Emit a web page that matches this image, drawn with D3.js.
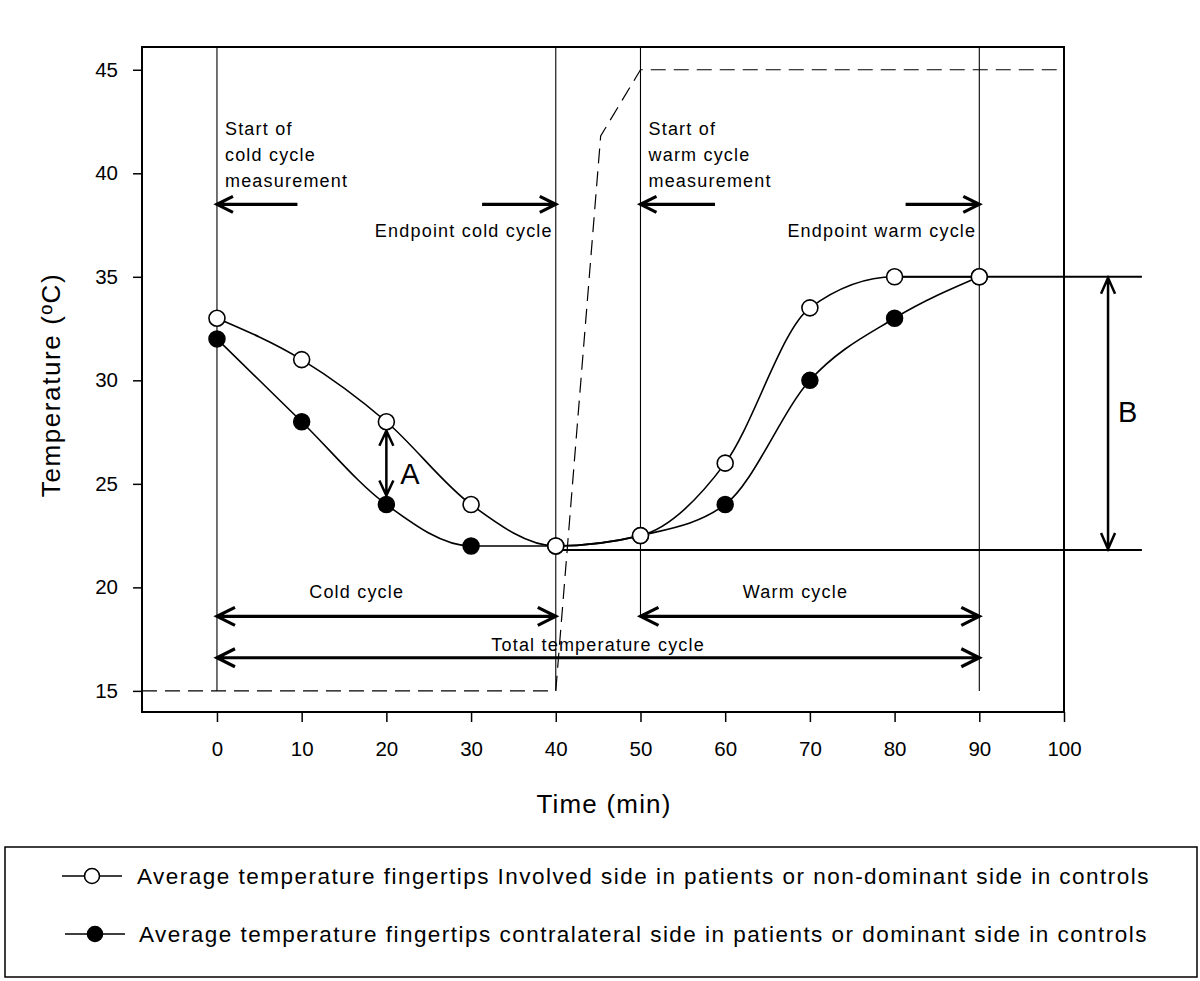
<!DOCTYPE html>
<html>
<head>
<meta charset="utf-8">
<script src="https://cdn.jsdelivr.net/npm/d3@7"></script>
<style>
  html, body { margin: 0; padding: 0; background: #fff; }
  svg { display: block; }
  text { font-family: "Liberation Sans", Arial, sans-serif; fill: #000; }
</style>
</head>
<body>
<svg id="chart" width="1200" height="981"></svg>
<script>
// ---------- data ----------
const times = [0, 10, 20, 30, 40, 50, 60, 70, 80, 90];
const involved = [33, 31, 28, 24, 22, 22.5, 26, 33.5, 35, 35];
const contralateral = [32, 28, 24, 22, 22, 22.5, 24, 30, 33, 35];

const stimTime = [-8.85, 40, 45.3, 50, 100];
const stimTemp = [15, 15, 41.8, 45, 45];

const xTicks = [0, 10, 20, 30, 40, 50, 60, 70, 80, 90, 100];
const yTicks = [15, 20, 25, 30, 35, 40, 45];

const markerTimes = [0, 40, 50, 90];
const markerBottoms = [15, 15, 18.6, 15];

const seriesNames = [
  "Average temperature fingertips Involved side in patients or non-dominant side in controls",
  "Average temperature fingertips contralateral side in patients or dominant side in controls"
];

const cycleY = 18.6, totalY = 16.6, phaseY = 38.5;
const levelHigh = 35, levelLow = 21.8;
const bTime = 105.2, levelEnd = 109.2;

// ---------- layout ----------
const svg = d3.select("#chart");
const x = d3.scaleLinear().domain([-8.85, 100]).range([142, 1064]);
const y = d3.scaleLinear().domain([13.98, 46.1]).range([712, 47]);

// axes
const xAxis = svg.append("g").attr("transform", "translate(0,712)")
  .call(d3.axisBottom(x).tickValues(xTicks).tickSize(10).tickPadding(19).tickFormat(d3.format("d")));
const yAxis = svg.append("g").attr("transform", "translate(142,0)")
  .call(d3.axisLeft(y).tickValues(yTicks).tickSize(9).tickPadding(15).tickFormat(d3.format("d")));
[xAxis, yAxis].forEach(g => {
  g.select(".domain").remove();
  g.selectAll(".tick line").attr("stroke", "#000").attr("stroke-width", 1.5);
  g.selectAll(".tick text").attr("font-size", 20.5).attr("font-family", "Liberation Sans, Arial, sans-serif");
});
xAxis.selectAll(".tick text").attr("dy", "0.71em");

// frame
svg.append("rect").attr("x", x(-8.85)).attr("y", y(46.1))
  .attr("width", x(100) - x(-8.85)).attr("height", y(13.98) - y(46.1))
  .attr("fill", "none").attr("stroke", "#000").attr("stroke-width", 2);

// axis titles
svg.append("text").attr("x", 604).attr("y", 813).attr("text-anchor", "middle")
  .attr("font-size", 26).attr("letter-spacing", 1.2).text("Time (min)");
svg.append("text").attr("transform", "translate(60,385) rotate(-90)").attr("text-anchor", "middle")
  .attr("font-size", 26).attr("letter-spacing", 1.6).text("Temperature (ºC)");

// vertical reference lines
svg.append("g").selectAll("line").data(markerTimes).join("line")
  .attr("x1", d => x(d)).attr("x2", d => x(d))
  .attr("y1", y(46.1)).attr("y2", (d, i) => y(markerBottoms[i]))
  .attr("stroke", "#000").attr("stroke-width", 1.1);

// stimulus dashed line
svg.append("path")
  .datum(stimTime.map((t, i) => [t, stimTemp[i]]))
  .attr("d", d3.line().x(d => x(d[0])).y(d => y(d[1])))
  .attr("fill", "none").attr("stroke", "#000").attr("stroke-width", 1.2)
  .attr("stroke-dasharray", "15,8");

// level lines
svg.append("line").attr("x1", x(80)).attr("x2", x(levelEnd)).attr("y1", y(levelHigh)).attr("y2", y(levelHigh))
  .attr("stroke", "#000").attr("stroke-width", 2);
svg.append("line").attr("x1", x(40)).attr("x2", x(levelEnd)).attr("y1", y(levelLow)).attr("y2", y(levelLow))
  .attr("stroke", "#000").attr("stroke-width", 2);

// arrow helpers
function head(tx, ty, dx, dy, len, half) {
  const bx = tx - dx * len, by = ty - dy * len;
  const px = -dy, py = dx;
  return `M${bx + px * half},${by + py * half}L${tx},${ty}L${bx - px * half},${by - py * half}`;
}
function arrow(x1, y1, x2, y2, startHead, endHead, w, len, half) {
  const L = Math.hypot(x2 - x1, y2 - y1), dx = (x2 - x1) / L, dy = (y2 - y1) / L;
  let d = `M${x1},${y1}L${x2},${y2}`;
  if (endHead) d += head(x2, y2, dx, dy, len, half);
  if (startHead) d += head(x1, y1, -dx, -dy, len, half);
  svg.append("path").attr("d", d).attr("fill", "none").attr("stroke", "#000")
    .attr("stroke-width", w).attr("stroke-linejoin", "miter").attr("stroke-linecap", "butt");
}

// cycle arrows
arrow(x(0), y(cycleY), x(40), y(cycleY), true, true, 3.2, 18, 9);
arrow(x(50), y(cycleY), x(90), y(cycleY), true, true, 3.2, 18, 9);
arrow(x(0), y(totalY), x(90), y(totalY), true, true, 3.2, 18, 9);
// phase arrows
arrow(x(9.5), y(phaseY), x(0), y(phaseY), false, true, 3.2, 16, 8);
arrow(x(31.3), y(phaseY), x(40), y(phaseY), false, true, 3.2, 16, 8);
arrow(x(58.8), y(phaseY), x(50), y(phaseY), false, true, 3.2, 16, 8);
arrow(x(81.3), y(phaseY), x(90), y(phaseY), false, true, 3.2, 16, 8);
// A and B
arrow(x(20), y(28) + 9, x(20), y(24) - 9, true, true, 2.5, 15, 7);
arrow(x(bTime), y(levelHigh) + 1, x(bTime), y(levelLow) - 1, true, true, 2.5, 16, 7);

// annotation texts
const ann = svg.append("g").attr("font-size", 18).attr("letter-spacing", 1.2);
function label(tx, ty, str, anchor) {
  ann.append("text").attr("x", tx).attr("y", ty).attr("text-anchor", anchor || "start").text(str);
}
label(x(0) + 8, y(phaseY) - 69, "Start of");
label(x(0) + 8, y(phaseY) - 43, "cold cycle");
label(x(0) + 8, y(phaseY) - 17, "measurement");
label(x(50) + 8, y(phaseY) - 69, "Start of");
label(x(50) + 8, y(phaseY) - 43, "warm cycle");
label(x(50) + 8, y(phaseY) - 17, "measurement");
label(x(40) - 3, y(phaseY) + 33, "Endpoint cold cycle", "end");
label(x(90) - 3, y(phaseY) + 33, "Endpoint warm cycle", "end");
label(x(16.5), y(cycleY) - 18, "Cold cycle", "middle");
label(x(68.3), y(cycleY) - 18, "Warm cycle", "middle");
label(x(45), y(totalY) - 7, "Total temperature cycle", "middle");

svg.append("text").attr("x", x(20) + 14).attr("y", y(24) - 21).attr("font-size", 29).text("A");
svg.append("text").attr("x", x(bTime) + 10).attr("y", 422).attr("font-size", 29).text("B");

// series curves
const curve = d3.line().x(d => x(d[0])).y(d => y(d[1])).curve(d3.curveMonotoneX);
const sInv = times.map((t, i) => [t, involved[i]]);
const sCon = times.map((t, i) => [t, contralateral[i]]);
svg.append("path").datum(sCon).attr("d", curve).attr("fill", "none").attr("stroke", "#000").attr("stroke-width", 1.6);
svg.append("path").datum(sInv).attr("d", curve).attr("fill", "none").attr("stroke", "#000").attr("stroke-width", 1.6);

svg.append("g").selectAll("circle").data(sCon).join("circle")
  .attr("cx", d => x(d[0])).attr("cy", d => y(d[1])).attr("r", 8)
  .attr("fill", "#000").attr("stroke", "#000").attr("stroke-width", 1.5);
svg.append("g").selectAll("circle").data(sInv).join("circle")
  .attr("cx", d => x(d[0])).attr("cy", d => y(d[1])).attr("r", 8)
  .attr("fill", "#fff").attr("stroke", "#000").attr("stroke-width", 1.6);

// legend
svg.append("rect").attr("x", 5).attr("y", 847).attr("width", 1192).attr("height", 130)
  .attr("fill", "none").attr("stroke", "#000").attr("stroke-width", 1.5);
const legendFills = ["#fff", "#000"];
const legendRows = [{lx: 62, cy: 876, tx: 137, tw: 1013}, {lx: 65, cy: 934, tx: 139, tw: 1009}];
legendRows.forEach((r, i) => {
  svg.append("line").attr("x1", r.lx).attr("x2", r.lx + 60).attr("y1", r.cy).attr("y2", r.cy)
    .attr("stroke", "#000").attr("stroke-width", 1.6);
  svg.append("circle").attr("cx", r.lx + 30).attr("cy", r.cy).attr("r", 7.5)
    .attr("fill", legendFills[i]).attr("stroke", "#000").attr("stroke-width", 1.6);
  const t = svg.append("text").attr("x", r.tx).attr("y", r.cy + 8).attr("font-size", 22.5).text(seriesNames[i]);
  const w = t.node().getComputedTextLength();
  t.attr("letter-spacing", (r.tw - w) / seriesNames[i].length);
});
</script>
</body>
</html>
